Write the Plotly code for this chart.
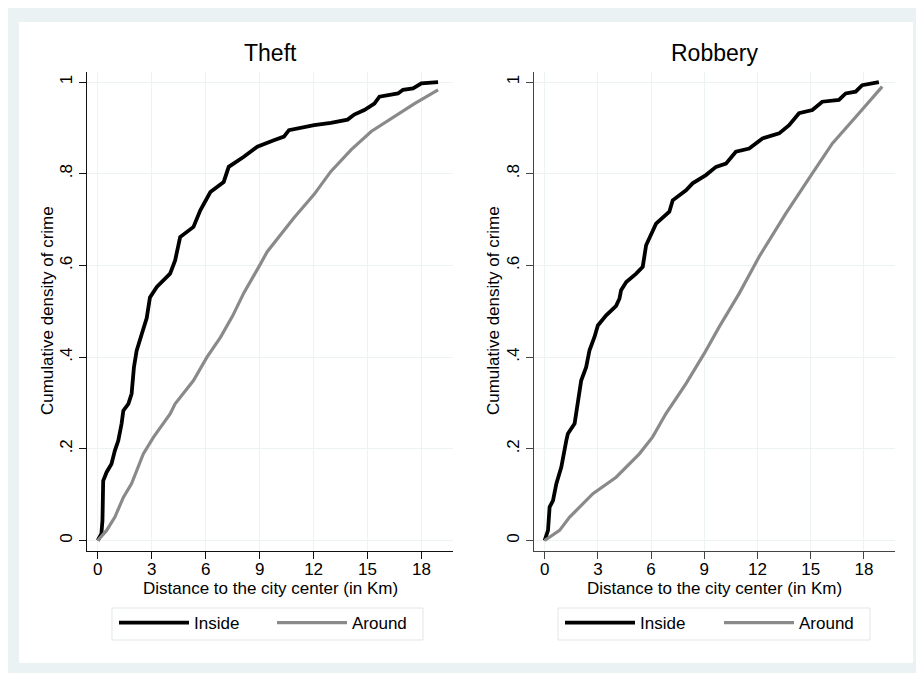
import plotly.graph_objects as go

# The page body has an 8px margin, so the figure is 8px smaller than the window and
# screen coordinates are converted with that offset.
OFF = 8
W, H = 924 - OFF, 673 - OFF

# ---------------- data ----------------
theft_inside_x = [0.0, 0.2, 0.26, 0.3, 0.49, 0.76, 0.95, 1.14, 1.32, 1.42, 1.7, 1.88, 2.01, 2.16, 2.44,
                  2.72, 2.9, 3.28, 4.02, 4.3, 4.58, 5.32, 5.7, 6.26, 7.0, 7.28, 8.12, 8.87, 9.79, 10.35,
                  10.63, 12.03, 12.96, 13.89, 14.26, 14.82, 15.38, 15.66, 16.69, 16.97, 17.53, 17.99, 18.92]
theft_inside_y = [0.0, 0.015, 0.044, 0.13, 0.149, 0.167, 0.196, 0.218, 0.254, 0.283, 0.298, 0.32, 0.378, 0.414, 0.45,
                  0.485, 0.53, 0.553, 0.582, 0.611, 0.662, 0.684, 0.72, 0.76, 0.782, 0.815, 0.837, 0.859, 0.873, 0.881,
                  0.895, 0.906, 0.911, 0.918, 0.929, 0.939, 0.953, 0.968, 0.975, 0.983, 0.986, 0.997, 1.0]

theft_around_x = [0.0, 0.49, 0.95, 1.42, 1.88, 2.53, 3.09, 4.02, 4.3, 5.32, 6.07, 6.82, 7.5, 8.12, 9.0, 9.42,
                  10.91, 12.03, 12.96, 14.08, 15.2, 16.31, 17.61, 18.92]
theft_around_y = [0.0, 0.022, 0.051, 0.094, 0.124, 0.189, 0.225, 0.276, 0.298, 0.349, 0.40, 0.443, 0.49, 0.54, 0.60,
                  0.63, 0.704, 0.755, 0.805, 0.852, 0.892, 0.921, 0.953, 0.983]

robbery_inside_x = [0.0, 0.19, 0.28, 0.47, 0.66, 0.94, 1.22, 1.31, 1.69, 1.87, 2.06, 2.34, 2.53, 2.81, 3.0,
                    3.47, 4.03, 4.22, 4.31, 4.6, 5.16, 5.53, 5.72, 6.28, 7.03, 7.22, 7.97, 8.34, 9.09, 9.66,
                    10.22, 10.78, 11.53, 12.28, 13.22, 13.78, 14.34, 15.09, 15.65, 16.59, 16.97, 17.53, 17.9, 18.84]
robbery_inside_y = [0.0, 0.022, 0.073, 0.087, 0.124, 0.16, 0.218, 0.233, 0.255, 0.306, 0.349, 0.378, 0.415, 0.444, 0.469,
                    0.491, 0.512, 0.528, 0.546, 0.564, 0.582, 0.597, 0.644, 0.691, 0.717, 0.742, 0.764, 0.779, 0.797, 0.815,
                    0.822, 0.848, 0.855, 0.877, 0.888, 0.906, 0.932, 0.939, 0.957, 0.961, 0.975, 0.979, 0.993, 1.0]

robbery_around_x = [0.0, 0.84, 1.41, 2.72, 4.03, 5.34, 6.09, 6.84, 7.97, 9.0, 9.84, 10.5, 10.97, 12.09,
                    13.59, 15.09, 16.22, 17.72, 19.03]
robbery_around_y = [0.0, 0.022, 0.051, 0.102, 0.138, 0.189, 0.226, 0.277, 0.342, 0.408, 0.466, 0.51, 0.539, 0.619,
                    0.713, 0.801, 0.866, 0.932, 0.99]

x_ticks = [0, 3, 6, 9, 12, 15, 18]
x_tick_labels = ["0", "3", "6", "9", "12", "15", "18"]
y_ticks = [0, 0.2, 0.4, 0.6, 0.8, 1]
y_tick_labels = ["0", ".2", ".4", ".6", ".8", "1"]

panel_titles = ["Theft", "Robbery"]
series_names = ["Inside", "Around"]
x_title = "Distance to the city center (in Km)"
y_title = "Cumulative density of crime"

# ---------------- style ----------------
FONT = "Liberation Sans, Arial, Helvetica, sans-serif"
BLACK = "#000000"
GREY = "#8a8a8a"
GRID = "#edf2f2"
FRAME = "#eaf2f3"


def px_x(s):
    return (s - OFF) / W


def px_y(s):
    return 1 - (s - OFF) / H


TOP, BOTTOM = 71.7, 550.5
LEG_Y = 623

panels = [
    dict(xa="x", ya="y", ix=theft_inside_x, iy=theft_inside_y, ax=theft_around_x, ay=theft_around_y,
         left=87, right=453, axcol="#111111", leg_left=112, leg_right=423, item1=120, item2=278, ytitle_x=47),
    dict(xa="x2", ya="y2", ix=robbery_inside_x, iy=robbery_inside_y, ax=robbery_around_x,
         ay=robbery_around_y, left=534, right=895, axcol="#444444", leg_left=558, leg_right=870,
         item1=566, item2=725, ytitle_x=493),
]

fig = go.Figure()
legend_names = ["legend", "legend2", "legend3", "legend4"]
li = 0
for p in panels:
    for name, xs, ys, col, lw in [(series_names[0], p["ix"], p["iy"], BLACK, 3.8),
                                  (series_names[1], p["ax"], p["ay"], GREY, 3.2)]:
        fig.add_trace(go.Scatter(x=xs, y=ys, mode="lines", name=name, line=dict(color=col, width=lw),
                                 xaxis=p["xa"], yaxis=p["ya"], legend=legend_names[li], showlegend=True))
        li += 1

axis_common_x = dict(range=[-0.6, 19.75], tickvals=x_ticks, ticktext=x_tick_labels, ticks="outside", ticklen=7,
                     tickwidth=1, showgrid=True, gridcolor=GRID, gridwidth=1, zeroline=False, showline=True,
                     linewidth=1.2, tickfont=dict(family=FONT, size=17, color="#000"), fixedrange=True,
                     automargin=False, ticklabelstandoff=-4)
axis_common_y = dict(range=[-0.0218, 1.0225], tickvals=y_ticks, ticktext=y_tick_labels, ticks="outside", ticklen=7,
                     tickwidth=1, showgrid=True, gridcolor=GRID, gridwidth=1, zeroline=False, showline=True,
                     linewidth=1.2, tickangle=-90, tickfont=dict(family=FONT, size=17, color="#000"),
                     fixedrange=True, automargin=False)

ydom = [px_y(BOTTOM), px_y(TOP)]
layout = dict(
    width=W, height=H, margin=dict(l=0, r=0, t=0, b=0, pad=0, autoexpand=False),
    paper_bgcolor=FRAME, plot_bgcolor="rgba(0,0,0,0)", showlegend=True,
    font=dict(family=FONT, size=17, color="#000"),
    xaxis=dict(axis_common_x, domain=[px_x(panels[0]["left"]), px_x(panels[0]["right"])], anchor="y",
               linecolor=panels[0]["axcol"], tickcolor=panels[0]["axcol"]),
    yaxis=dict(axis_common_y, domain=ydom, anchor="x", linecolor=panels[0]["axcol"], tickcolor=panels[0]["axcol"]),
    xaxis2=dict(axis_common_x, domain=[px_x(panels[1]["left"]), px_x(panels[1]["right"])], anchor="y2",
                linecolor=panels[1]["axcol"], tickcolor=panels[1]["axcol"]),
    yaxis2=dict(axis_common_y, domain=ydom, anchor="x2", linecolor=panels[1]["axcol"],
                tickcolor=panels[1]["axcol"]),
)

legend_common = dict(orientation="v", xanchor="left", yanchor="middle", y=px_y(LEG_Y), bgcolor="rgba(0,0,0,0)",
                     borderwidth=0, font=dict(family=FONT, size=17, color="#000"), itemwidth=70,
                     itemclick=False, itemdoubleclick=False, visible=True)
legend_x = [panels[0]["item1"], panels[0]["item2"], panels[1]["item1"], panels[1]["item2"]]
for k, ln in enumerate(legend_names):
    layout[ln] = dict(legend_common, x=px_x(legend_x[k] - 6))

shapes = [
    dict(type="rect", xref="paper", yref="paper", x0=px_x(19), x1=px_x(913), y0=px_y(663), y1=px_y(22),
         fillcolor="white", line=dict(width=0), layer="below"),
]
annotations = []
for i, p in enumerate(panels):
    shapes.append(dict(type="rect", xref="paper", yref="paper", x0=px_x(p["leg_left"]), x1=px_x(p["leg_right"]),
                       y0=px_y(640), y1=px_y(608), fillcolor="white", line=dict(color="#dfe7e7", width=1),
                       layer="below"))
    cx = (p["left"] + p["right"]) / 2
    annotations.append(dict(text=panel_titles[i], xref="paper", yref="paper", x=px_x(cx), y=px_y(53),
                            xanchor="center", yanchor="middle", showarrow=False,
                            font=dict(family=FONT, size=23, color="#000")))
    annotations.append(dict(text=x_title, xref="paper", yref="paper", x=px_x(cx), y=px_y(588),
                            xanchor="center", yanchor="middle", showarrow=False,
                            font=dict(family=FONT, size=17, color="#000")))
    annotations.append(dict(text=y_title, xref="paper", yref="paper", x=px_x(p["ytitle_x"]),
                            y=px_y((TOP + BOTTOM) / 2), xanchor="center", yanchor="middle", showarrow=False,
                            textangle=-90, font=dict(family=FONT, size=17, color="#000")))

layout["shapes"] = shapes
layout["annotations"] = annotations
fig.update_layout(**layout)

fig.write_html("out.html")
